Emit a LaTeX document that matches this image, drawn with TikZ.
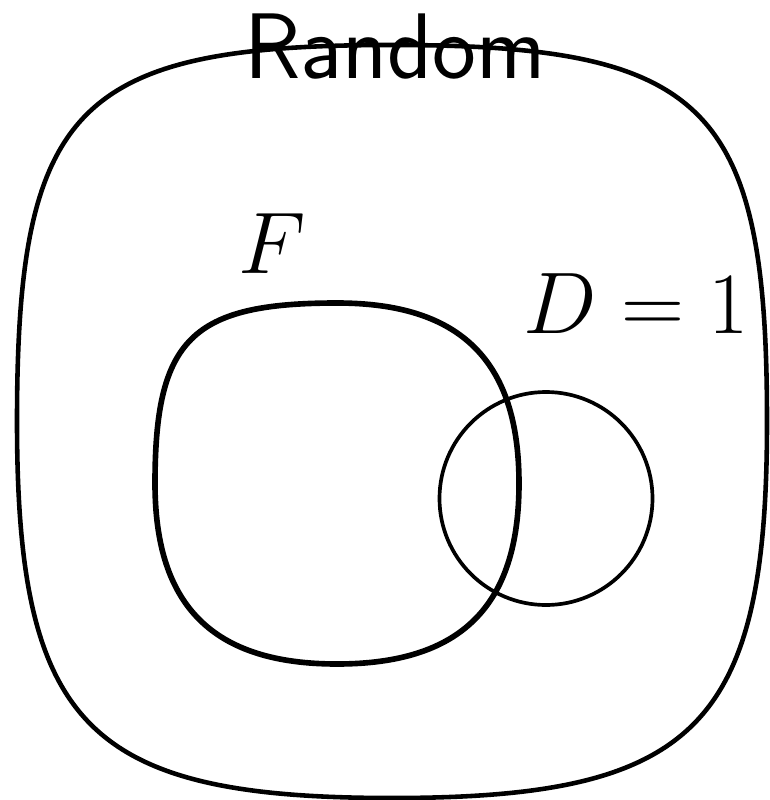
\documentclass[tikz,border=0pt]{standalone}
\usepackage{amsmath,amssymb}

\tikzset{
  setline/.style={line width=1.3pt},
  fline/.style={line width=1.6pt},
  dline/.style={line width=1.05pt},
  lbl/.style={inner sep=0pt, anchor=base, font=\fontsize{25.5}{30}\selectfont}
}

\begin{document}
\begin{tikzpicture}[x=0.01cm, y=-0.01cm]
            \useasboundingbox (0,0) rectangle (769,800);
            % outer set
            \draw[setline] (392,45) .. controls (77,45) and (17,105.5) .. (17,421.5)
                           .. controls (17,726.5) and (88,798) .. (392,798)
                           .. controls (696,798) and (767,726.5) .. (767,421.5)
                           .. controls (767,105.5) and (707,45) .. cycle;
            % F
            \draw[fline] (337,303) .. controls (191.4,303) and (155,339.1) .. (155,483.5)
                         .. controls (155,606.2) and (213.2,664) .. (337,664)
                         .. controls (460.8,664) and (519,606.2) .. (519,483.5)
                         .. controls (519,360.8) and (460.8,303) .. cycle;
            % D = 1
            \draw[dline] (546,498.5) circle [radius=106.5];
            \node[lbl, font=\fontsize{26.5}{30}\selectfont] (R) at (395, 78) {\textsf{Random}};
            \node[lbl] (F) at (272,273) {$F$};
            \node[lbl] (D) at (636,333) {$D=1$};
          \end{tikzpicture}
\end{document}
